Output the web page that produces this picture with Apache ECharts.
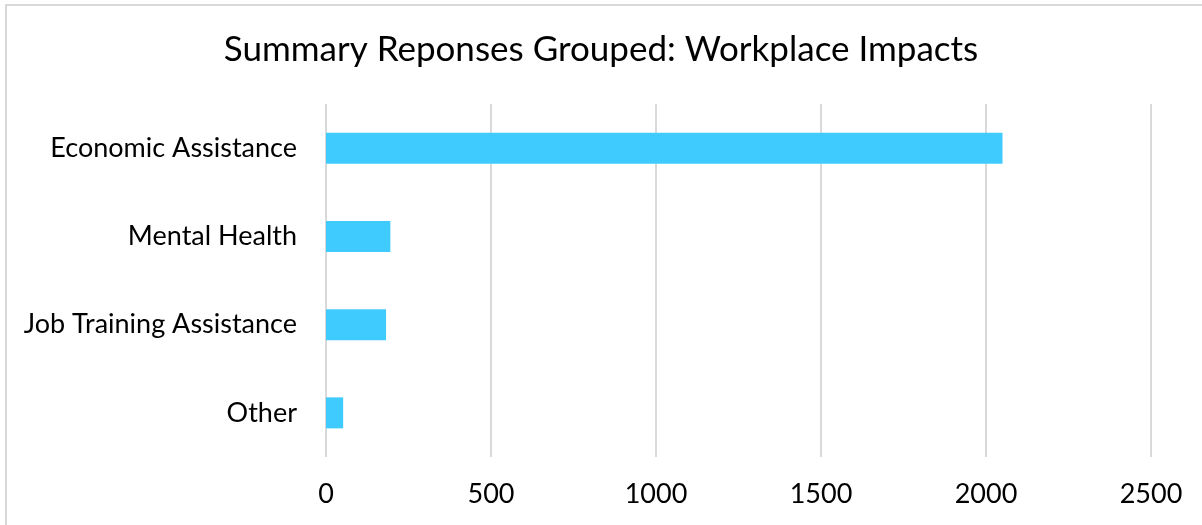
<!DOCTYPE html>
<html>
<head>
<meta charset="utf-8">
<script src="https://cdn.jsdelivr.net/npm/echarts@6/dist/echarts.min.js"></script>
<style>html,body{margin:0;padding:0;background:#fff}#c{width:1202px;height:525px}</style>
</head>
<body>
<div id="c"></div>
<script>
const categories = ['Economic Assistance', 'Mental Health', 'Job Training Assistance', 'Other'];
const values = [2050, 195, 182, 52];
const xTicks = [0, 500, 1000, 1500, 2000, 2500];

const FONT = 'Lato';
const chart = echarts.init(document.getElementById('c'), null, {renderer: 'canvas'});
chart.setOption({
  animation: false,
  backgroundColor: '#fff',
  graphic: [{
    type: 'rect', shape: {x: 6, y: 5, width: 1300, height: 600},
    style: {fill: 'none', stroke: '#d9d9d9', lineWidth: 2}, silent: true
  }],
  title: {
    text: 'Summary Reponses Grouped: Workplace Impacts',
    left: 'center', top: 27,
    textStyle: {fontFamily: FONT, fontSize: 35, fontWeight: 'normal', color: '#000'}
  },
  grid: {left: 326, right: 51, top: 104, bottom: 68, containLabel: false},
  xAxis: {
    type: 'value', min: xTicks[0], max: xTicks[xTicks.length - 1], interval: 500,
    axisLine: {show: false}, axisTick: {show: false},
    axisLabel: {fontFamily: FONT, fontSize: 27, color: '#000', margin: 24,
      formatter: v => String(v)},
    splitLine: {show: true, lineStyle: {color: '#d9d9d9', width: 2}}
  },
  yAxis: {
    type: 'category', data: categories, inverse: true,
    axisLine: {show: false}, axisTick: {show: false},
    axisLabel: {fontFamily: FONT, fontSize: 27, color: '#000', margin: 29}
  },
  series: [{
    type: 'bar', data: values, barWidth: 31,
    itemStyle: {color: '#40CBFF'}
  }]
});
</script>
</body>
</html>
